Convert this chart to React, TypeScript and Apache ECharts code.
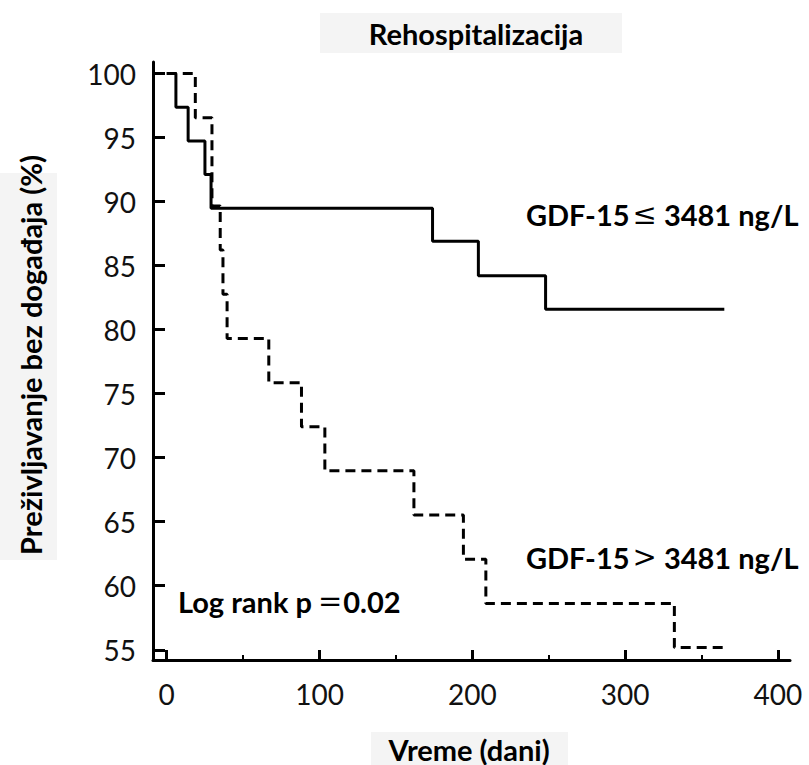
import React, { useEffect, useRef } from "react";
import * as echarts from "echarts";

const lowTimes = [0, 6, 14, 25, 29, 174, 204, 248, 365];
const lowSurvival = [100, 97.37, 94.74, 92.11, 89.47, 86.9, 84.2, 81.6, 81.6];

const highTimes = [0, 18.7, 29.6, 35, 36.8, 39.5, 66.8, 88.2, 103.5, 161.8, 194.2, 208.9, 332.3, 364.7];
const highSurvival = [100, 96.55, 89.66, 86.21, 82.76, 79.31, 75.86, 72.41, 68.97, 65.52, 62.07, 58.62, 55.17, 55.17];

const yTicks = [55, 60, 65, 70, 75, 80, 85, 90, 95, 100];
const xTicks = [0, 100, 200, 300, 400];
const xMinorTicks = [50, 150, 250, 350];

const titleText = "Rehospitalizacija";
const xName = "Vreme (dani)";
const yName = "Preživljavanje bez događaja (%)";

const FONT = "Lato";
const BOLD = 29;

export default function App() {
  const ref = useRef<HTMLDivElement>(null);
  useEffect(() => {
    if (!ref.current) return;
    const chart = echarts.init(ref.current, null, { renderer: "svg" });
    const pair = (t: number[], s: number[]) => t.map((v, i) => [v, s[i]]);
    const rich = {
      b: { fontFamily: FONT, fontWeight: "bold", fontSize: BOLD, fill: "#000" },
      s: { fontFamily: "DejaVu Serif", fontWeight: "normal", fontSize: 29, fill: "#000", padding: [0, 0, 0, 3] },
      e: { fontFamily: "DejaVu Serif", fontWeight: "normal", fontSize: 29, fill: "#000", padding: [0, 1, 0, 6] },
    };
    chart.setOption({
      animation: false,
      backgroundColor: "#ffffff",
      grid: { left: 153, right: 19, top: 62, bottom: 105 },
      xAxis: [
        {
          type: "value",
          min: -9,
          max: 408,
          axisLine: { show: true, onZero: false, lineStyle: { color: "#000", width: 3 } },
          axisTick: { show: true, inside: true, length: 10, lineStyle: { color: "#000", width: 3 }, customValues: xTicks },
          axisLabel: { show: true, customValues: xTicks, margin: 20, color: "#111", fontFamily: FONT, fontSize: 28 },
          splitLine: { show: false },
        },
        {
          type: "value",
          min: -9,
          max: 408,
          position: "bottom",
          offset: 0,
          axisLine: { show: false, onZero: false },
          axisTick: { show: true, inside: true, length: 5, lineStyle: { color: "#000", width: 2 }, customValues: xMinorTicks },
          axisLabel: { show: false },
          splitLine: { show: false },
        },
      ],
      yAxis: {
        type: "value",
        min: 54.2,
        max: 100.9,
        axisLine: { show: true, onZero: false, lineStyle: { color: "#000", width: 3 } },
        axisTick: { show: true, inside: true, length: 12, lineStyle: { color: "#000", width: 3 }, customValues: yTicks },
        axisLabel: { show: true, customValues: yTicks, margin: 17, color: "#111", fontFamily: FONT, fontSize: 28 },
        splitLine: { show: false },
      },
      series: [
        {
          name: "GDF-15 ≤ 3481 ng/L",
          type: "line",
          step: "end",
          data: pair(lowTimes, lowSurvival),
          showSymbol: false,
          symbol: "none",
          lineStyle: { color: "#000", width: 3, type: "solid" },
        },
        {
          name: "GDF-15 > 3481 ng/L",
          type: "line",
          step: "end",
          data: pair(highTimes, highSurvival),
          showSymbol: false,
          symbol: "none",
          lineStyle: { color: "#000", width: 3, type: [10, 6] },
        },
      ],
      graphic: [
        { type: "rect", shape: { x: 320, y: 13, width: 302, height: 40 }, style: { fill: "#f4f4f4" }, z: 0 },
        {
          type: "text",
          x: 476,
          y: 33,
          style: { text: titleText, fill: "#000", font: `bold ${BOLD}px ${FONT}`, align: "center", verticalAlign: "middle" },
          z: 10,
        },
        { type: "rect", shape: { x: 371, y: 732, width: 197, height: 40 }, style: { fill: "#f4f4f4" }, z: 0 },
        {
          type: "text",
          x: 469,
          y: 749,
          style: { text: xName, fill: "#000", font: `bold ${BOLD}px ${FONT}`, align: "center", verticalAlign: "middle" },
          z: 10,
        },
        { type: "rect", shape: { x: 0, y: 173, width: 57, height: 387 }, style: { fill: "#f4f4f4" }, z: 0 },
        {
          type: "text",
          x: 30,
          y: 355,
          rotation: Math.PI / 2,
          style: { text: yName, fill: "#000", font: `bold ${BOLD}px ${FONT}`, align: "center", verticalAlign: "middle" },
          z: 10,
        },
        {
          type: "text",
          x: 526,
          y: 214,
          style: { text: "{b|GDF-15}{s|≤}{b| 3481 ng/L}", verticalAlign: "middle", rich },
          z: 10,
        },
        {
          type: "text",
          x: 526,
          y: 557,
          style: { text: "{b|GDF-15}{s|>}{b| 3481 ng/L}", verticalAlign: "middle", rich },
          z: 10,
        },
        {
          type: "text",
          x: 178,
          y: 601,
          style: { text: "{b|Log rank p}{e|=}{b|0.02}", verticalAlign: "middle", rich },
          z: 10,
        },
      ],
    });
    return () => chart.dispose();
  }, []);
  return <div ref={ref} style={{ width: 809, height: 765, position: "absolute", left: 0, top: 0 }} />;
}
